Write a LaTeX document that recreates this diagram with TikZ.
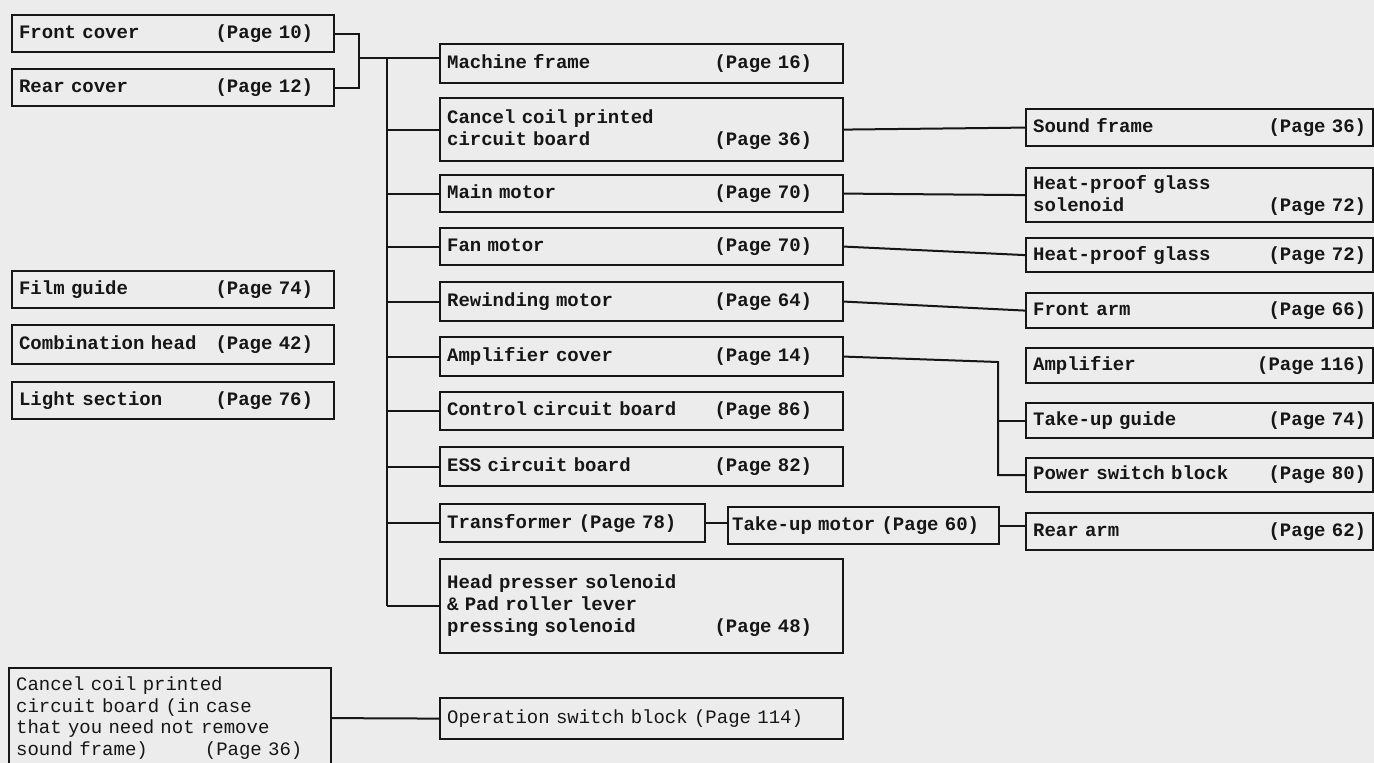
\documentclass[tikz,border=0pt]{standalone}
\usepackage{fontspec}
\setmonofont{Liberation Mono}
\definecolor{paper}{HTML}{ECECEC}
\definecolor{ink}{HTML}{161616}
\newlength\pagegap
\newcommand\pg[1]{\hfill(Page #1)\hspace*{\pagegap}}

\begin{document}
\begin{tikzpicture}[
    x=0.5pt, y=-0.5pt,
    font=\ttfamily\bfseries\fontsize{9.5}{11}\selectfont,
    part/.style={
        draw=ink, line width=1.1pt, text=ink,
        anchor=north west, align=left,
        inner xsep=3.5pt, inner ysep=0pt,
        minimum height=18.5pt, pageGap=0pt
    },
    pageGap/.code={\setlength\pagegap{#1}},
    leftBox/.style={part, text width=154pt, pageGap=7pt},
    midBox/.style={part, text width=194.5pt, pageGap=12pt},
    rightBox/.style={part, text width=166.5pt},
    transBox/.style={part, text width=125.5pt},
    motorBox/.style={part, text width=131.5pt, inner xsep=2pt},
    lightText/.style={font=\ttfamily\mdseries\fontsize{9.5}{10.75}\selectfont},
    link/.style={draw=ink, line width=1pt}
]
\useasboundingbox (0,0) rectangle (1374,763);
\fill[paper] (0,0) rectangle (1374,763);

% left column
\node[leftBox] (frontCover) at (11,14) {Front cover\pg{10}};
\node[leftBox] (rearCover) at (11,68) {Rear cover\pg{12}};
\node[leftBox] (filmGuide) at (11,270) {Film guide\pg{74}};
\node[leftBox, minimum height=19.5pt] (comboHead) at (11,324) {Combination head\pg{42}};
\node[leftBox] (lightSection) at (11,381) {Light section\pg{76}};
\node[leftBox, lightText, minimum height=50pt] (cancelLoose) at (8,667)
  {Cancel coil printed\\circuit board (in case\\that you need not remove\\sound frame)\hspace{3em}(Page 36)};

% middle column
\node[midBox, minimum height=19.5pt] (machineFrame) at (439,43) {Machine frame\pg{16}};
\node[midBox, minimum height=31.5pt] (cancelBoard) at (439,97) {Cancel coil printed\\circuit board\pg{36}};
\node[midBox] (mainMotor) at (439,174) {Main motor\pg{70}};
\node[midBox] (fanMotor) at (439,227) {Fan motor\pg{70}};
\node[midBox, minimum height=19.5pt] (rewindMotor) at (439,281) {Rewinding motor\pg{64}};
\node[midBox, minimum height=19.5pt] (ampCover) at (439,336) {Amplifier cover\pg{14}};
\node[midBox, minimum height=19pt] (controlBoard) at (439,391) {Control circuit board\pg{86}};
\node[midBox, minimum height=19.5pt] (essBoard) at (439,446) {ESS circuit board\pg{82}};
\node[transBox, minimum height=19pt] (transformer) at (439,503) {Transformer (Page 78)};
\node[motorBox] (takeupMotor) at (727,506) {Take-up motor (Page 60)};
\node[midBox, minimum height=47pt] (headPresser) at (439,558)
  {Head presser solenoid\\\& Pad roller lever\\pressing solenoid\pg{48}};
\node[midBox, lightText, minimum height=20.5pt] (opSwitch) at (439,697) {Operation switch block (Page 114)};

% right column
\node[rightBox] (soundFrame) at (1025,108) {Sound frame\pg{36}};
\node[rightBox, minimum height=27pt] (glassSolenoid) at (1025,167) {Heat-proof glass\\solenoid\pg{72}};
\node[rightBox, minimum height=17pt] (glass) at (1025,237) {Heat-proof glass\pg{72}};
\node[rightBox, minimum height=17.5pt] (frontArm) at (1025,292) {Front arm\pg{66}};
\node[rightBox, minimum height=17.5pt] (amplifier) at (1025,347) {Amplifier\pg{116}};
\node[rightBox, minimum height=17.5pt] (takeupGuide) at (1025,402) {Take-up guide\pg{74}};
\node[rightBox, minimum height=17pt] (powerSwitch) at (1025,457) {Power switch block\pg{80}};
\node[rightBox] (rearArm) at (1025,512) {Rear arm\pg{62}};

% connectors
\coordinate (coverJoin) at (359,58);
\coordinate (trunk) at (387,58);
\coordinate (ampDrop) at (998,362);

\draw[link] (frontCover.east) -- (frontCover.east -| coverJoin)
  -- (rearCover.east -| coverJoin) -- (rearCover.east);
\draw[link] (coverJoin) -- (coverJoin -| machineFrame.west);
\draw[link] (trunk) -- (trunk |- headPresser.west);
\foreach \blk in {cancelBoard, mainMotor, fanMotor, rewindMotor, ampCover,
                  controlBoard, essBoard, transformer, headPresser}
  \draw[link] (trunk |- \blk.west) -- (\blk.west);

\draw[link] (cancelBoard.east) -- (soundFrame.west);
\draw[link] (mainMotor.east) -- (glassSolenoid.west);
\draw[link] (fanMotor.east) -- (glass.west);
\draw[link] (rewindMotor.east) -- (frontArm.west);
\draw[link] (ampCover.east) -- (ampDrop) |- (powerSwitch.west);
\draw[link] (ampDrop |- takeupGuide.west) -- (takeupGuide.west);
\draw[link] (transformer.east) -- (transformer.east -| takeupMotor.west);
\draw[link] (takeupMotor.east) -- (takeupMotor.east -| rearArm.west);
\draw[link] (cancelLoose.east) -- (opSwitch.west);

\end{tikzpicture}
\end{document}
